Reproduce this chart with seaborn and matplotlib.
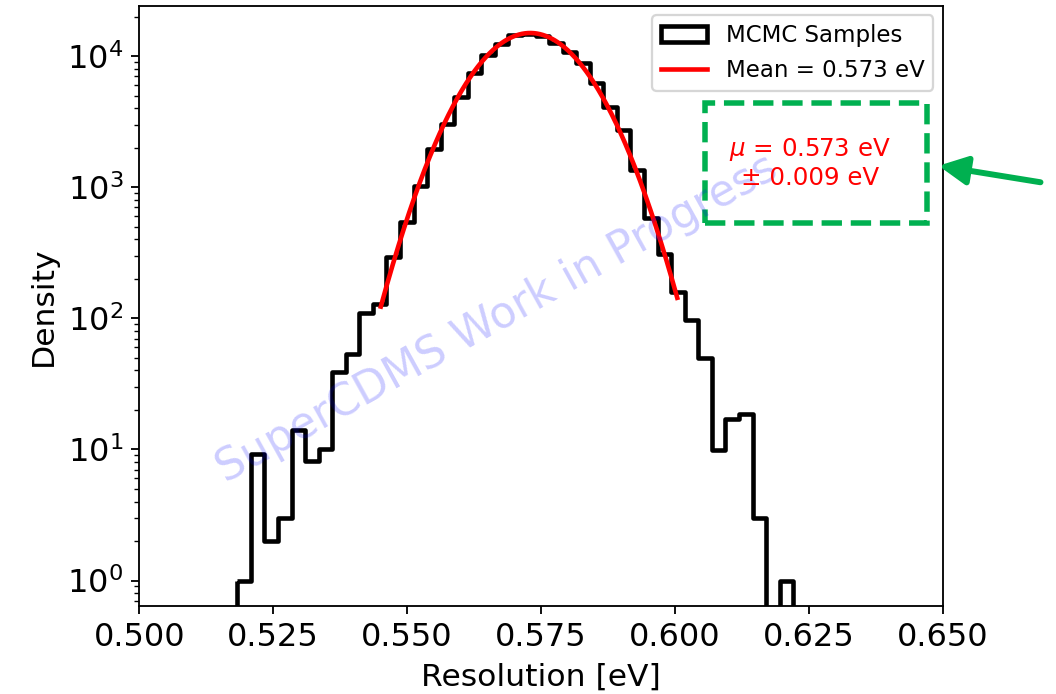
import numpy as np
import pandas as pd
import matplotlib
matplotlib.use("Agg")
import matplotlib.pyplot as plt
import seaborn as sns
from matplotlib.patches import Patch, Rectangle, FancyArrowPatch
from matplotlib.lines import Line2D

# ---------------- data ----------------
bin_start = 0.5183
bin_stop = 0.6221
densities = [1.0, 9.3, 2.0, 3.0, 14.0, 8.2, 10.0, 39.0, 53.0, 109.0,
             128.0, 294.0, 543.0, 1020.0, 1970.0, 3030.0, 4890.0, 7460.0, 10200.0, 12400.0,
             14500.0, 14700.0, 14200.0, 12500.0, 10800.0, 8850.0, 6190.0, 4100.0, 2720.0, 1350.0,
             580.0, 308.0, 160.0, 97.0, 50.0, 9.9, 17.0, 18.5, 3.0, 0.0,
             1.0]
fit_mean = 0.573
fit_sigma = 0.009
fit_peak = 15000.0
legend_labels = ["MCMC Samples", "Mean = 0.573 eV"]
x_ticks = [0.500, 0.525, 0.550, 0.575, 0.600, 0.625, 0.650]
x_tick_labels = ["0.500", "0.525", "0.550", "0.575", "0.600", "0.625", "0.650"]
annotation_text = "$\\mu$ = 0.573 eV\n± 0.009 eV"
watermark = "SuperCDMS Work in Progress"

# ---------------- derived ----------------
edges = np.linspace(bin_start, bin_stop, len(densities) + 1)
hist_df = pd.DataFrame({"resolution": 0.5 * (edges[:-1] + edges[1:]),
                        "density": densities})
fit_x = np.linspace(fit_mean - 3.1 * fit_sigma, fit_mean + 3.05 * fit_sigma, 400)
fit_df = pd.DataFrame({"resolution": fit_x,
                       "density": fit_peak * np.exp(-0.5 * ((fit_x - fit_mean) / fit_sigma) ** 2)})

W, H, DPI = 1056, 694, 165
fig = plt.figure(figsize=(W / DPI, H / DPI), dpi=DPI)
ax = fig.add_axes([139.3 / W, 1 - 606 / H, (942.6 - 139.3) / W, (606 - 6) / H])

sns.histplot(data=hist_df, x="resolution", weights="density", bins=list(edges),
             element="step", fill=True, color="black", facecolor="none",
             edgecolor="black", linewidth=2.0, ax=ax)
sns.lineplot(data=fit_df, x="resolution", y="density", color="red", linewidth=2.0, ax=ax)

ax.set_yscale("log")
ax.set_xlim(0.5, 0.65)
ax.set_ylim(0.639, 24100)
ax.set_xticks(x_ticks)
ax.set_xticklabels(x_tick_labels)
ax.tick_params(axis="both", which="major", labelsize=14)
ax.set_xlabel("Resolution [eV]", fontsize=13.7)
ax.set_ylabel("Density", fontsize=13.7)

handles = [Patch(facecolor="none", edgecolor="black", linewidth=2.0),
           Line2D([], [], color="red", linewidth=2.0)]
ax.legend(handles=handles, labels=legend_labels, loc="upper right", fontsize=10,
          borderaxespad=0.4)

# watermark
fig.text(497 / W, 1 - 318 / H, watermark, rotation=29, fontsize=19,
         color="blue", alpha=0.2, ha="center", va="center")

# red annotation
fig.text(810 / W, 1 - 163 / H, annotation_text, ha="center", va="center",
         color="red", fontsize=10.7)

green = "#00b050"
fig.add_artist(Rectangle((705 / W, 1 - 223 / H), (927 - 705) / W, (223 - 103) / H,
                         transform=fig.transFigure, fill=False, edgecolor=green,
                         linewidth=2.4, linestyle="--"))
fig.add_artist(FancyArrowPatch((1045 / W, 1 - 183 / H), (934 / W, 1 - 165 / H),
                               transform=fig.transFigure, arrowstyle="-|>",
                               mutation_scale=26, linewidth=2.6, color=green))

fig.savefig("out.png", dpi=DPI)
